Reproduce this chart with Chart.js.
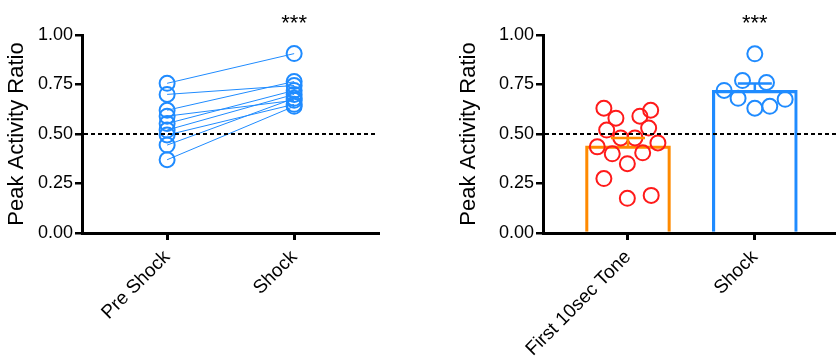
<!DOCTYPE html>
<html>
<head>
<meta charset="utf-8">
<script src="https://cdn.jsdelivr.net/npm/chart.js@4.4.1/dist/chart.umd.min.js"></script>
<style>
  body { margin: 0; background: #fff; }
  .wrap { display: flex; width: 836px; height: 361px; }
  canvas { display: block; flex: none; }
</style>
</head>
<body>
<div class="wrap">
  <canvas id="pairChart" width="420" height="361"></canvas>
  <canvas id="barChart" width="416" height="361"></canvas>
</div>
<script>
// values
const pairLabels = ["Pre Shock", "Shock"];
const preShock = [0.756, 0.70, 0.62, 0.59, 0.553, 0.52, 0.495, 0.444, 0.37];
const shockPaired = [0.906, 0.745, 0.765, 0.67, 0.72, 0.70, 0.65, 0.68, 0.64];

const barLabels = ["First 10sec Tone", "Shock"];
const barMeans = [0.44, 0.72];
const barSem = [0.04, 0.035];
const toneValues = [0.63, 0.58, 0.59, 0.62, 0.52, 0.53, 0.48, 0.48, 0.435, 0.40, 0.405, 0.455, 0.35, 0.275, 0.175, 0.19];
const toneJitter = [0.81, 0.905, 1.094, 1.179, 0.832, 1.163, 0.943, 1.055, 0.758, 0.876, 1.116, 1.236, 0.995, 0.81, 0.995, 1.183];
const shockValues = [0.905, 0.77, 0.76, 0.72, 0.675, 0.68, 0.63, 0.64];
const shockJitter = [2.0, 1.903, 2.092, 1.758, 2.239, 1.868, 2.0, 2.118];

const yTicks = [0, 0.25, 0.5, 0.75, 1.0];
const chance = 0.5;

const FONT = 'Arial, "Liberation Sans", Helvetica, sans-serif';
const BLUE = "#1f8bff";
const ORANGE = "#ff8a00";
const RED = "#ff1a1a";

Chart.defaults.font.family = FONT;
Chart.defaults.color = "#000";

// y axis shared by both panels
function yAxis(width) {
  return {
    min: 0,
    max: 1,
    afterBuildTicks: (s) => { s.ticks = yTicks.map((v) => ({ value: v })); },
    ticks: { color: "#000", font: { size: 18 }, padding: 2, callback: (v) => v.toFixed(2) },
    grid: { drawOnChartArea: false, drawTicks: true, tickLength: 7, lineWidth: 2.5, color: "#000" },
    border: { display: true, width: 3, color: "#000" },
    title: { display: true, text: "Peak Activity Ratio", color: "#000", font: { size: 22 } },
    afterFit: (s) => { s.width = width; s.paddingTop = 0; s.paddingBottom = 0; },
  };
}

function xAxis(labels, max) {
  return {
    type: "linear",
    offset: false,
    min: 0.33,
    max: max,
    afterBuildTicks: (s) => { s.ticks = labels.map((l, i) => ({ value: i + 1 })); },
    ticks: {
      color: "#000",
      font: { size: 19 },
      minRotation: 45,
      maxRotation: 45,
      padding: 6,
      callback: (v) => labels[v - 1],
    },
    grid: { offset: false, drawOnChartArea: false, drawTicks: true, tickLength: 7, lineWidth: 3, color: "#000" },
    border: { display: true, width: 3, color: "#000" },
    afterFit: (s) => { s.height = 128; s.paddingLeft = 0; s.paddingRight = 0; },
  };
}

// dashed 0.5 line and the significance stars
const refLine = {
  id: "refLine",
  afterDatasetsDraw(chart) {
    const { ctx, chartArea, scales: { x, y } } = chart;
    const yy = y.getPixelForValue(chance);
    ctx.save();
    ctx.strokeStyle = "#000";
    ctx.lineWidth = 2;
    ctx.setLineDash([4, 3]);
    ctx.beginPath();
    ctx.moveTo(chartArea.left + 2, yy);
    ctx.lineTo(chartArea.right, yy);
    ctx.stroke();
    ctx.setLineDash([]);
    ctx.font = "22px " + FONT;
    ctx.textAlign = "center";
    ctx.fillStyle = "#000";
    ctx.fillText("***", x.getPixelForValue(2), chartArea.top - 5);
    ctx.restore();
  },
};

// upper SEM whisker on each bar
const errorBars = {
  id: "errorBars",
  afterDatasetsDraw(chart) {
    const { ctx, scales: { x, y } } = chart;
    const colors = [ORANGE, BLUE];
    ctx.save();
    ctx.lineWidth = 2.5;
    barMeans.forEach((m, i) => {
      const cx = x.getPixelForValue(i + 1);
      const top = y.getPixelForValue(m + barSem[i]);
      const base = y.getPixelForValue(m);
      ctx.strokeStyle = colors[i];
      ctx.beginPath();
      ctx.moveTo(cx, base);
      ctx.lineTo(cx, top);
      ctx.moveTo(cx - 17, top);
      ctx.lineTo(cx + 17, top);
      ctx.stroke();
    });
    ctx.restore();
  },
};

const commonPlugins = {
  legend: { display: false },
  tooltip: { enabled: false },
};

// left panel: paired lines
const pairSets = preShock.map((p, i) => ({
  data: [{ x: 1, y: p }, { x: 2, y: shockPaired[i] }],
  borderColor: BLUE,
  borderWidth: 1,
  pointRadius: 7.5,
  pointBorderWidth: 2,
  pointBorderColor: BLUE,
  pointBackgroundColor: "rgba(0,0,0,0)",
}));

new Chart(document.getElementById("pairChart"), {
  type: "line",
  data: { datasets: pairSets },
  options: {
    responsive: false,
    animation: false,
    layout: { autoPadding: false, padding: { top: 35, right: 42, left: 0, bottom: 0 } },
    plugins: commonPlugins,
    scales: { x: xAxis(pairLabels, 2.66), y: yAxis(82) },
  },
  plugins: [refLine],
});

// right panel: bars with individual points
new Chart(document.getElementById("barChart"), {
  type: "bar",
  data: {
    datasets: [
      {
        type: "scatter",
        data: toneValues.map((v, i) => ({ x: toneJitter[i], y: v })),
        pointRadius: 7.5,
        pointBorderWidth: 2,
        borderColor: RED,
        backgroundColor: "rgba(0,0,0,0)",
      },
      {
        type: "scatter",
        data: shockValues.map((v, i) => ({ x: shockJitter[i], y: v })),
        pointRadius: 7.5,
        pointBorderWidth: 2,
        borderColor: BLUE,
        backgroundColor: "rgba(0,0,0,0)",
      },
      {
        type: "bar",
        data: barMeans.map((m, i) => ({ x: i + 1, y: m })),
        borderColor: [ORANGE, BLUE],
        backgroundColor: "rgba(0,0,0,0)",
        borderWidth: 2.5,
        barThickness: 85,
      },
    ],
  },
  options: {
    responsive: false,
    animation: false,
    layout: { autoPadding: false, padding: { top: 35, right: 0, left: 32, bottom: 0 } },
    plugins: commonPlugins,
    scales: { x: xAxis(barLabels, 2.64), y: yAxis(91) },
  },
  plugins: [refLine, errorBars],
});
</script>
</body>
</html>
